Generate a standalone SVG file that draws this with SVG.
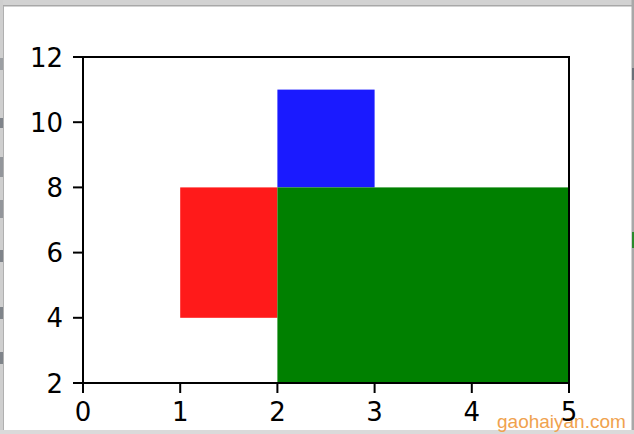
<svg xmlns="http://www.w3.org/2000/svg" width="634" height="434" viewBox="0 0 634 434">
  <style>
    .tick { stroke: #000; stroke-width: 2; }
    .spine { fill: none; stroke: #000; stroke-width: 2; stroke-linecap: square; }
    .lbl { font-family: "DejaVu Sans", sans-serif; font-size: 26px; fill: #000; }
    .yl { text-anchor: end; }
    .xl { text-anchor: middle; }
    .wm { font-family: "Liberation Sans", Arial, sans-serif; font-size: 19px; fill: #f0a24e; }
    .art { fill: #6a7078; }
  </style>
  <rect x="0" y="0" width="634" height="434" fill="#ffffff"/>
  <g id="frame">
    <rect x="0" y="0" width="634" height="5" fill="#d2d2d2"/>
    <rect x="0" y="5" width="634" height="1.5" fill="#a8a8a8"/>
    <rect x="0" y="0" width="3" height="434" fill="#cfcfcf"/>
    <rect x="3" y="6" width="1" height="428" fill="#b0b0b0"/>
    <rect x="631.5" y="0" width="2.5" height="434" fill="#a8a8a8"/>
    <rect x="0" y="430" width="634" height="4" fill="#dadada"/>
    <rect x="0" y="58" width="3" height="12" class="art" opacity="0.5"/>
    <rect x="0" y="118" width="3" height="10" class="art" opacity="0.8"/>
    <rect x="0" y="157" width="3" height="20" class="art" opacity="0.6"/>
    <rect x="0" y="200" width="3" height="18" class="art" opacity="0.6"/>
    <rect x="0" y="250" width="3" height="12" class="art" opacity="0.8"/>
    <rect x="0" y="307" width="3" height="12" class="art" opacity="0.8"/>
    <rect x="0" y="352" width="3" height="12" class="art" opacity="0.8"/>
    <rect x="632" y="68" width="2" height="12" class="art"/>
    <rect x="632" y="232" width="2" height="16" fill="#2a8a2a"/>
  </g>
  <g id="bar-red"><rect x="180.2" y="187.4" width="97.2" height="130.4" fill="#ff1a1a"/></g>
  <g id="bar-blue"><rect x="277.4" y="89.6" width="97.2" height="97.8" fill="#1a1aff"/></g>
  <g id="bar-green"><rect x="277.4" y="187.4" width="291.6" height="195.6" fill="#008000"/></g>
  <g id="axes">
    <rect class="spine" x="83" y="57" width="486" height="326"/>
    <g id="yticks">
      <line class="tick" x1="73" y1="57" x2="83" y2="57"/>
      <line class="tick" x1="73" y1="122.2" x2="83" y2="122.2"/>
      <line class="tick" x1="73" y1="187.4" x2="83" y2="187.4"/>
      <line class="tick" x1="73" y1="252.6" x2="83" y2="252.6"/>
      <line class="tick" x1="73" y1="317.8" x2="83" y2="317.8"/>
      <line class="tick" x1="73" y1="383" x2="83" y2="383"/>
    </g>
    <g id="xticks">
      <line class="tick" x1="83" y1="383" x2="83" y2="393"/>
      <line class="tick" x1="180.2" y1="383" x2="180.2" y2="393"/>
      <line class="tick" x1="277.4" y1="383" x2="277.4" y2="393"/>
      <line class="tick" x1="374.6" y1="383" x2="374.6" y2="393"/>
      <line class="tick" x1="471.8" y1="383" x2="471.8" y2="393"/>
      <line class="tick" x1="569" y1="383" x2="569" y2="393"/>
    </g>
  </g>
  <text class="wm" x="497" y="428">gaohaiyan.com</text>
  <g id="ylabels">
    <text class="lbl yl" x="63" y="66.5">12</text>
    <text class="lbl yl" x="63" y="131.7">10</text>
    <text class="lbl yl" x="63" y="196.9">8</text>
    <text class="lbl yl" x="63" y="262.1">6</text>
    <text class="lbl yl" x="63" y="327.3">4</text>
    <text class="lbl yl" x="63" y="392.5">2</text>
  </g>
  <g id="xlabels">
    <text class="lbl xl" x="83" y="421">0</text>
    <text class="lbl xl" x="180.2" y="421">1</text>
    <text class="lbl xl" x="277.4" y="421">2</text>
    <text class="lbl xl" x="374.6" y="421">3</text>
    <text class="lbl xl" x="471.8" y="421">4</text>
    <text class="lbl xl" x="569" y="421">5</text>
  </g>
</svg>
